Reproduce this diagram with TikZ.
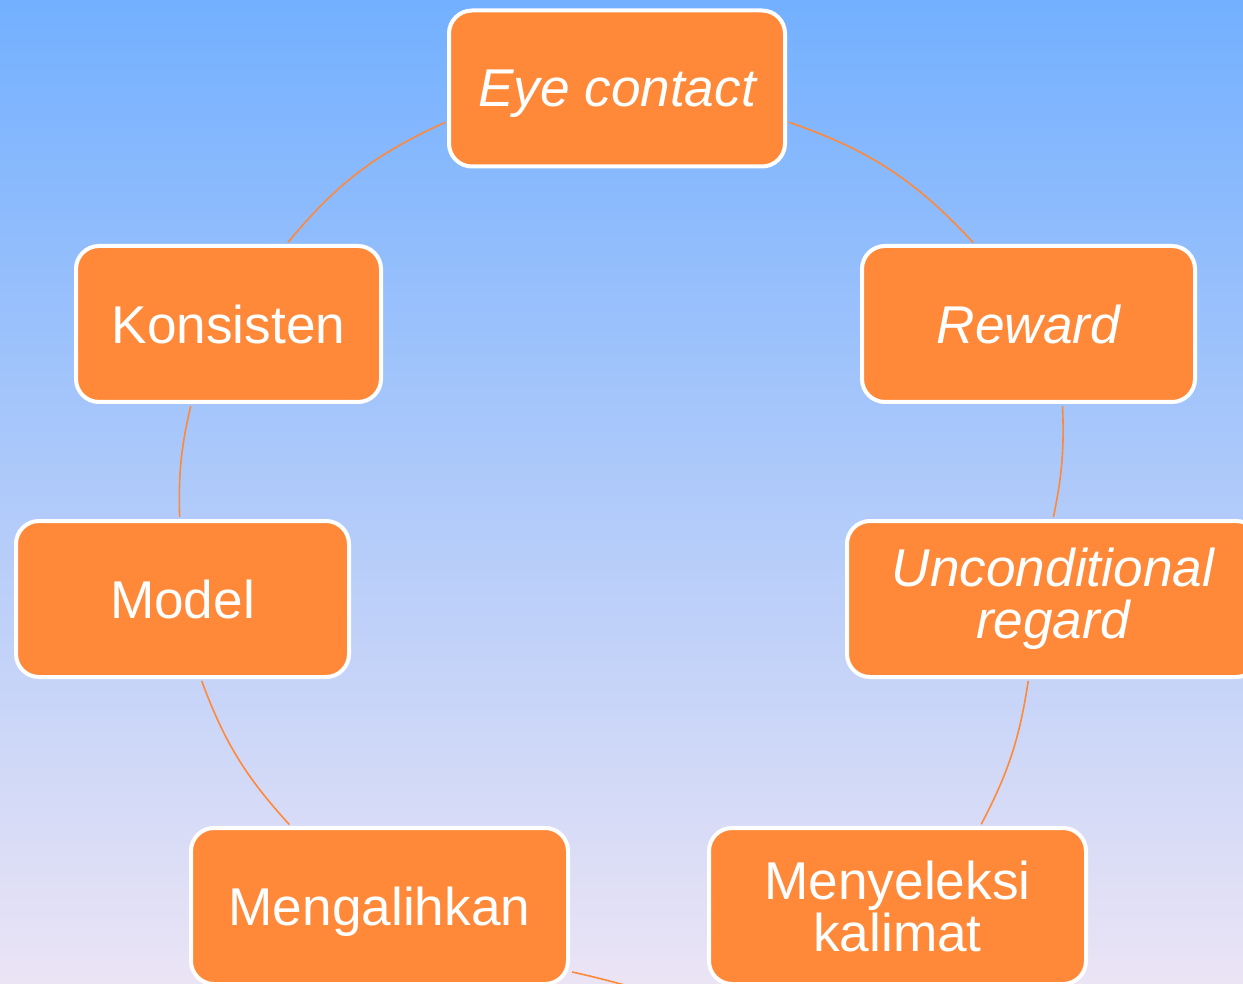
\documentclass[tikz,border=0pt]{standalone}
\usepackage{fontspec}
\setmainfont{Liberation Sans}
\usepackage{xcolor}
\usepackage{tikz}

\definecolor{boxorange}{RGB}{255,137,57}
\definecolor{bgtop}{RGB}{115,176,255}
\definecolor{bgmid}{RGB}{166,203,246}
\definecolor{bgbottom}{RGB}{235,228,245}

\begin{document}
\begin{tikzpicture}[
  x=0.5pt, y=0.5pt,
  every node/.style={font=\fontsize{26.6}{26}\selectfont, align=center, text=white},
  box/.style={rectangle, draw=white, line width=2pt, fill=boxorange, rounded corners=11.5pt, minimum height=78pt, inner sep=0pt},
  word/.style={box, text depth=0pt},
  link/.style={draw=boxorange, line width=0.8pt, shorten <=1pt, shorten >=1pt}
]

% BACKGROUND
\useasboundingbox (0,0) rectangle (1243,-984);
\clip (0,0) rectangle (1243,-984);
\shade[top color=bgtop, middle color=bgmid, bottom color=bgbottom] (0,0) rectangle (1243,-984);

% CYCLE STEPS
\node[word, minimum width=168pt] (eye_contact) at (617,-88.5) {\itshape Eye contact};
\node[word, minimum width=166.5pt] (reward) at (1028.5,-324) {\itshape Reward};
\node[box, minimum width=206pt] (unconditional) at (1053,-599) {\itshape Unconditional\\\itshape regard};
\node[box, minimum width=188.5pt] (menyeleksi) at (897.5,-906) {Menyeleksi\\kalimat};
\node[word, minimum width=188.5pt] (mengalihkan) at (379.5,-906) {Mengalihkan};
\node[word, minimum width=166.5pt] (model) at (182.5,-599) {Model};
\node[word, minimum width=152.5pt] (konsisten) at (228.5,-324) {Konsisten};

% LINKS
\draw[link] (eye_contact.-11) to[bend left=14] (reward.124.5);
\draw[link] (reward.-67.5) to[bend left=7] (unconditional.90);
\draw[link] (unconditional.253.6) to[bend left=9.5] (menyeleksi.44.5);
\draw[link] (mengalihkan.-19.6) to[out=-12, in=-150] (menyeleksi.-110);
\draw[link] (mengalihkan.138.8) to[bend left=11] (model.-77.3);
\draw[link] (model.92.6) to[bend left=7.4] (konsisten.245.8);
\draw[link] (konsisten.54.5) to[bend left=13] (eye_contact.191);

\end{tikzpicture}
\end{document}
